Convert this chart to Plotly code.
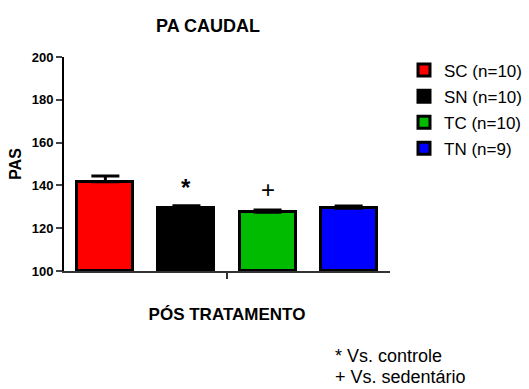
import plotly.graph_objects as go

groups = ["SC (n=10)", "SN (n=10)", "TC (n=10)", "TN (n=9)"]
means = [141.7, 129.3, 127.4, 129.3]
sems = [2.7, 1.2, 1.1, 1.1]
colors = ["#ff0000", "#000000", "#00bb00", "#0000ff"]
marks = ["", "<b>*</b>", "+", ""]
mark_y = [None, 139.0, 138.3, None]
y_ticks = [100, 120, 140, 160, 180, 200]

FONT = "Arial, Liberation Sans, sans-serif"

fig = go.Figure()
for i, (g, m, s, c) in enumerate(zip(groups, means, sems, colors)):
    fig.add_trace(go.Bar(
        x=[i], y=[m - 100], base=100, name=g, legendgroup=g,
        marker=dict(color=c, line=dict(color="black", width=3)),
        width=0.69,
        error_y=dict(type="data", array=[s], arrayminus=[0], symmetric=False,
                     color="black", thickness=3, width=14),
    ))

for i, (mk, my) in enumerate(zip(marks, mark_y)):
    if mk:
        fig.add_annotation(x=i, y=my, text=mk, showarrow=False,
                           font=dict(family=FONT, size=24, color="black"),
                           yanchor="middle")

fig.add_annotation(xref="paper", yref="paper", x=(333 - 64) / 326, y=-(356 - 271) / 214,
                   text="* Vs. controle", showarrow=False, xanchor="left", yanchor="middle",
                   font=dict(family=FONT, size=18, color="black"))
fig.add_annotation(xref="paper", yref="paper", x=(333 - 64) / 326, y=-(377 - 271) / 214,
                   text="+ Vs. sedentário", showarrow=False, xanchor="left", yanchor="middle",
                   font=dict(family=FONT, size=18, color="black"))

fig.update_layout(
    width=529, height=389,
    margin=dict(l=64, r=139, t=57, b=118, autoexpand=False),
    paper_bgcolor="white", plot_bgcolor="white",
    font=dict(family=FONT, color="black"),
    title=dict(text="<b>PA CAUDAL</b>", x=(208 - 64) / 326, xref="paper", xanchor="center",
               y=1 - 26 / 389, yanchor="middle", font=dict(size=18, family=FONT)),
    showlegend=True,
    legend=dict(xref="container", yref="container", x=527 / 529, y=1 - 52.5 / 389,
                xanchor="right", yanchor="top", traceorder="grouped",
                tracegroupgap=1, font=dict(size=17, family=FONT), itemwidth=30),
    bargap=0,
)
fig.update_yaxes(range=[100, 200], tickvals=y_ticks, ticks="outside", ticklen=6, tickwidth=2,
                 showline=True, linewidth=2, linecolor="black", showgrid=False, zeroline=False,
                 automargin=False,
                 tickfont=dict(size=13, family=FONT, weight="bold"),
                 title=dict(text="<b>PAS</b>", font=dict(size=16), standoff=6))
fig.update_xaxes(range=[-0.51, 3.51], tickvals=[1.5], ticktext=[""], ticks="outside", ticklen=6,
                 tickwidth=2, tickcolor="#333", showline=True, linewidth=2, linecolor="#333",
                 showgrid=False, zeroline=False, automargin=False,
                 title=dict(text="<b>PÓS TRATAMENTO</b>", font=dict(size=17), standoff=28))

fig.write_html("out.html", post_script="document.body.style.margin='0';",
               config={"displayModeBar": False})
